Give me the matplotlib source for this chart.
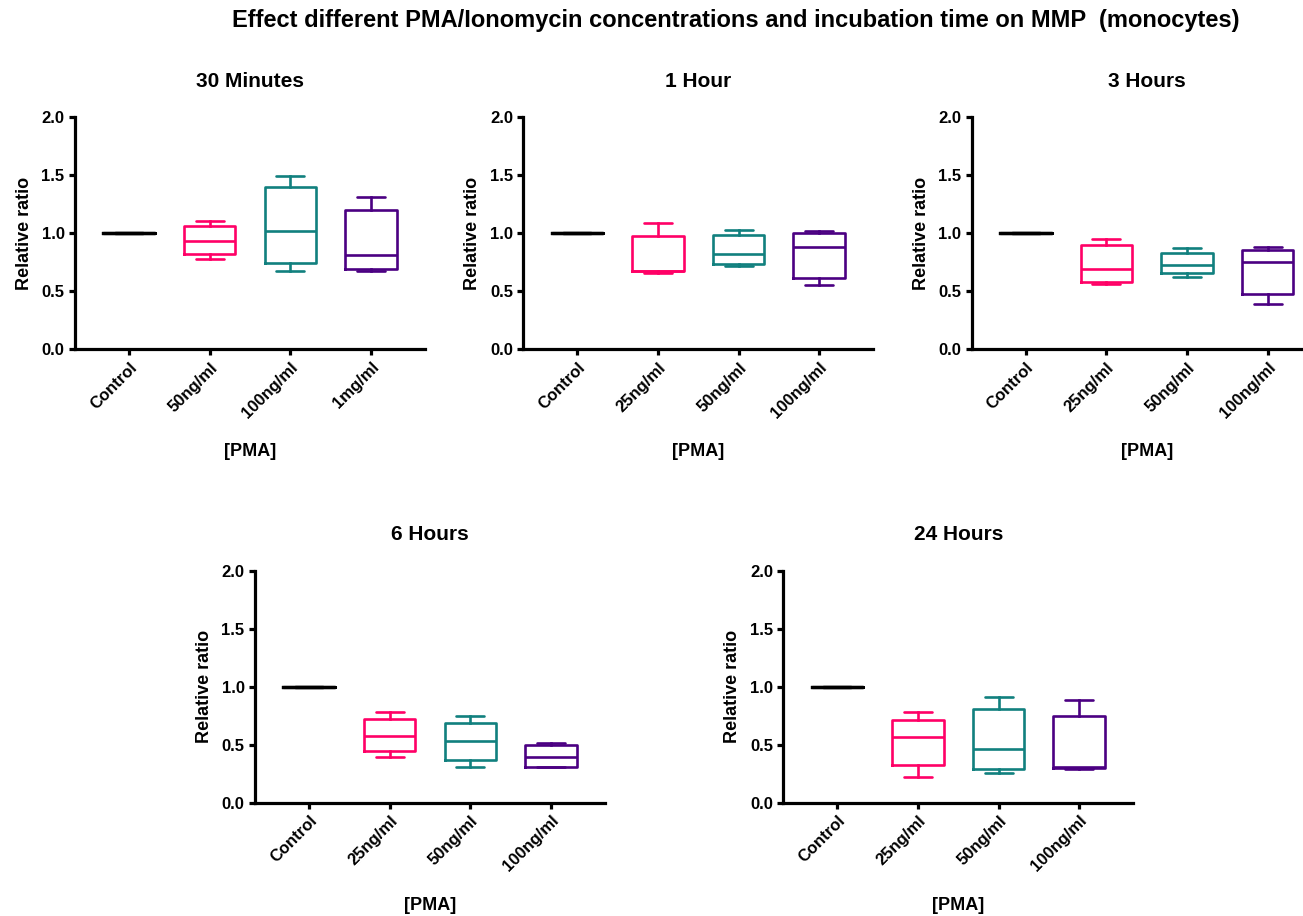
import numpy as np
import matplotlib
matplotlib.use('Agg')
import matplotlib.pyplot as plt

plt.rcParams['font.family'] = ['Liberation Sans', 'DejaVu Sans']
plt.rcParams['font.weight'] = 'bold'

# panel titles and x categories
titles = ['30 Minutes', '1 Hour', '3 Hours', '6 Hours', '24 Hours']
cats = [['Control', '50ng/ml', '100ng/ml', '1mg/ml'],
        ['Control', '25ng/ml', '50ng/ml', '100ng/ml'],
        ['Control', '25ng/ml', '50ng/ml', '100ng/ml'],
        ['Control', '25ng/ml', '50ng/ml', '100ng/ml'],
        ['Control', '25ng/ml', '50ng/ml', '100ng/ml']]

# box stats per panel (Control, then three doses)
whislo = [[1.0, 0.78, 0.675, 0.675],
          [1.0, 0.66, 0.72, 0.555],
          [1.0, 0.56, 0.625, 0.39],
          [1.0, 0.39, 0.31, 0.31],
          [1.0, 0.225, 0.255, 0.29]]
q1 = [[1.0, 0.82, 0.74, 0.695],
      [1.0, 0.672, 0.735, 0.615],
      [1.0, 0.583, 0.655, 0.474],
      [1.0, 0.446, 0.365, 0.31],
      [1.0, 0.325, 0.29, 0.297]]
med = [[1.0, 0.934, 1.02, 0.815],
       [1.0, 0.675, 0.82, 0.885],
       [1.0, 0.695, 0.727, 0.753],
       [1.0, 0.572, 0.532, 0.394],
       [1.0, 0.564, 0.466, 0.31]]
q3 = [[1.0, 1.06, 1.40, 1.20],
      [1.0, 0.977, 0.983, 1.005],
      [1.0, 0.899, 0.828, 0.853],
      [1.0, 0.719, 0.69, 0.497],
      [1.0, 0.713, 0.81, 0.747]]
whishi = [[1.0, 1.109, 1.49, 1.31],
          [1.0, 1.086, 1.026, 1.022],
          [1.0, 0.951, 0.873, 0.885],
          [1.0, 0.782, 0.745, 0.512],
          [1.0, 0.782, 0.909, 0.885]]

colors = ['black', '#FF0066', '#11807E', '#4B0082']

W, H = 1303, 916
fig = plt.figure(figsize=(W / 100, H / 100), dpi=100)

# axes positions in pixels (left, bottom-of-axis y)
lefts = [75, 523.3, 971.7, 255, 783.3]
bottoms = [349.3, 349.3, 349.3, 802.7, 802.7]
aw, ah = 350, 232

for k in range(5):
    ax = fig.add_axes([lefts[k] / W, 1 - bottoms[k] / H, aw / W, ah / H])
    for i in range(4):
        st = [dict(whislo=whislo[k][i], q1=q1[k][i], med=med[k][i],
                   q3=q3[k][i], whishi=whishi[k][i], fliers=[])]
        lw = 2.3 if i == 0 else 1.9
        c = colors[i]
        ax.bxp(st, positions=[i], widths=0.64, capwidths=0.35,
               showfliers=False,
               boxprops=dict(color=c, linewidth=lw),
               medianprops=dict(color=c, linewidth=lw),
               whiskerprops=dict(color=c, linewidth=lw),
               capprops=dict(color=c, linewidth=lw, solid_capstyle='round'),
               manage_ticks=False)
    ax.set_xlim(-0.67, 3.67)
    ax.set_ylim(0, 2.0)
    ax.set_yticks([0, 0.5, 1.0, 1.5, 2.0])
    ax.set_yticklabels(['0.0', '0.5', '1.0', '1.5', '2.0'])
    ax.set_xticks(range(4))
    ax.set_xticklabels(cats[k], rotation=45, ha='right', rotation_mode='anchor')
    for s in ['top', 'right']:
        ax.spines[s].set_visible(False)
    for s in ['left', 'bottom']:
        ax.spines[s].set_linewidth(2.3)
    ax.tick_params(width=2.3, length=4.5, labelsize=12, pad=3)
    ax.set_ylabel('Relative ratio', fontsize=13, fontweight='bold', labelpad=6)
    ax.set_xlabel('[PMA]', fontsize=13, fontweight='bold', labelpad=16)
    ax.set_title(titles[k], fontsize=15, fontweight='bold', pad=22)

fig.text(736 / W, 1 - 20 / H,
         'Effect different PMA/Ionomycin concentrations and incubation time on MMP  (monocytes)',
         ha='center', va='center', fontsize=17, fontweight='bold')

fig.savefig('out.png', dpi=100)
